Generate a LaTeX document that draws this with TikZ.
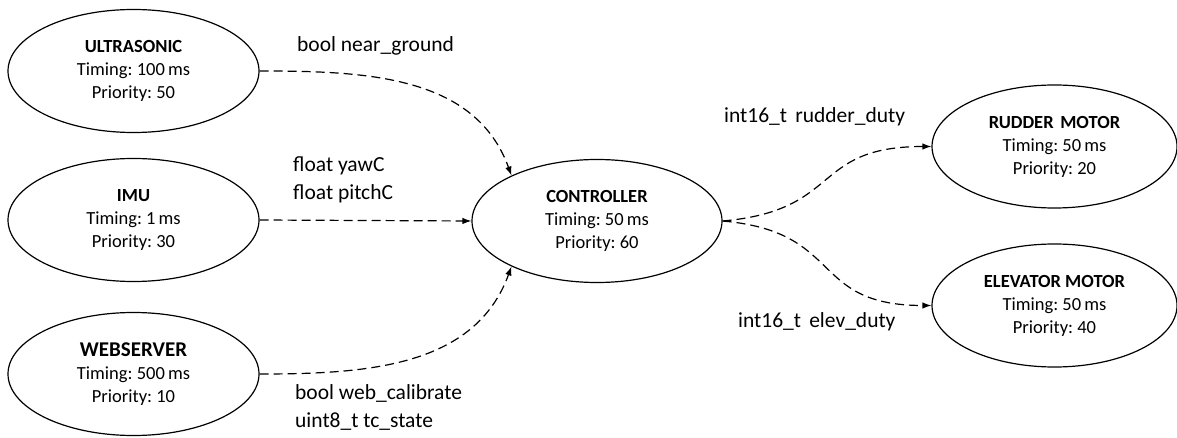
\documentclass[tikz,border=0pt]{standalone}
\usepackage{fontspec}
\setmainfont{Carlito}
\usetikzlibrary{shapes.geometric,arrows.meta}
\frenchspacing
\begin{document}
\begin{tikzpicture}[x=1pt,y=-1pt,
  task/.style={ellipse,draw,line width=1.2pt,inner sep=0pt,
    minimum width=251pt,minimum height=123pt,align=center,
    font=\fontsize{18.5}{23}\selectfont},
  flow/.style={draw,line width=1.2pt,dash pattern=on 9pt off 5pt,
    -{Latex[length=9pt,width=6.5pt]}},
  msg/.style={anchor=west,align=left,inner sep=0pt,
    font=\fontsize{21.5}{28}\selectfont}]
\useasboundingbox (0,0) rectangle (1177,438);

% tasks
\node[task] (ultra) at (133.5,71)  {\textbf{ULTRASONIC}\\Timing: 100\,ms\\Priority: 50};
\node[task] (imu)   at (133.5,220) {\textbf{IMU}\\Timing: 1\,ms\\Priority: 30};
\node[task] (web)   at (133.5,374) {{\fontsize{21}{23}\selectfont\textbf{WEBSERVER}}\\Timing: 500\,ms\\Priority: 10};
\node[task,minimum width=250pt] (ctrl) at (597,221) {\textbf{CONTROLLER}\\Timing: 50\,ms\\Priority: 60};
\node[task,minimum width=245pt] (rud)  at (1054.5,146.5) {\textbf{RUDDER\hspace{0.36em}MOTOR}\\Timing: 50\,ms\\Priority: 20};
\node[task,minimum width=245pt] (elev) at (1054.5,305.5) {\textbf{ELEVATOR MOTOR}\\Timing: 50\,ms\\Priority: 40};

% data flows
\draw[flow] (ultra.east) to[out=0,in=110] (ctrl.152);
\draw[flow] (imu.east) -- (ctrl.west);
\draw[flow] (web.east) to[out=0,in=-110] (ctrl.208);
\draw[flow] (ctrl.east) to[out=5,in=180,looseness=1.4] (rud.west);
\draw[flow] (ctrl.east) to[out=-5,in=180,looseness=1.4] (elev.west);

% messages
\node[msg] (m1) at (297,46)    {bool near\_ground};
\node[msg] (m2) at (293,179.5) {float yawC\\float pitchC};
\node[msg] (m3) at (295,407.5) {bool web\_calibrate\\uint8\_t tc\_state};
\node[msg] (m4) at (724,117)   {int16\_t\hspace{0.38em}rudder\_duty};
\node[msg] (m5) at (738,322)   {int16\_t\hspace{0.38em}elev\_duty};
\end{tikzpicture}
\end{document}
